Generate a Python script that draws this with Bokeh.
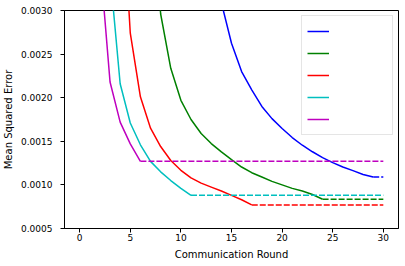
from bokeh.plotting import figure
from bokeh.models import Range1d, FixedTicker, PrintfTickFormatter, Legend, LegendItem
from bokeh.core.properties import value
from bokeh.embed import file_html
from bokeh.resources import INLINE

# ---- data ----
x_ticks = [0, 5, 10, 15, 20, 25, 30]
y_ticks = [0.0005, 0.0010, 0.0015, 0.0020, 0.0025, 0.0030]

blue_x = list(range(13, 30))
blue_y = [0.0037, 0.00309, 0.002625, 0.00230, 0.00209, 0.00190, 0.00176, 0.001647,
          0.001543, 0.001455, 0.00138, 0.001313, 0.001256, 0.001205, 0.001164,
          0.00112, 0.00109]
blue_tail_x = [29, 30]
blue_tail_y = [0.00109, 0.00109]

green_x = list(range(7, 25))
green_y = [0.0045, 0.00296, 0.002337, 0.00197, 0.00175, 0.00159, 0.001474, 0.001378,
           0.00129, 0.001205, 0.00114, 0.00109, 0.00104, 0.00100, 0.00096, 0.00093,
           0.00089, 0.000835]
green_tail_x = [24, 30]
green_tail_y = [0.000835, 0.000835]

red_x = list(range(4, 18))
red_y = [0.0047, 0.00274, 0.00201, 0.00165, 0.00144, 0.00128, 0.001167, 0.00108,
         0.00102, 0.000975, 0.00093, 0.00088, 0.00083, 0.00077]
red_tail_x = [17, 30]
red_tail_y = [0.00077, 0.00077]

cyan_x = list(range(3, 12))
cyan_y = [0.00343, 0.00216, 0.00171, 0.00146, 0.00127, 0.00115, 0.00105, 0.00096, 0.00088]
cyan_tail_x = [11, 30]
cyan_tail_y = [0.00088, 0.00088]

magenta_x = list(range(2, 7))
magenta_y = [0.00359, 0.00218, 0.00172, 0.00147, 0.00127]
magenta_tail_x = [6, 30]
magenta_tail_y = [0.00127, 0.00127]

series = [
    ("#0000ff", blue_x, blue_y, blue_tail_x, blue_tail_y),
    ("#008000", green_x, green_y, green_tail_x, green_tail_y),
    ("#ff0000", red_x, red_y, red_tail_x, red_tail_y),
    ("#00bfbf", cyan_x, cyan_y, cyan_tail_x, cyan_tail_y),
    ("#bf00bf", magenta_x, magenta_y, magenta_tail_x, magenta_tail_y),
]

FONT = "DejaVu Sans"

p = figure(width=403, height=262, output_backend="svg", toolbar_location=None,
           x_range=Range1d(-1.5, 31.5), y_range=Range1d(0.0005, 0.0030),
           min_border_left=64, min_border_right=5, min_border_top=10, min_border_bottom=34)

p.grid.visible = False
p.background_fill_color = "white"
p.border_fill_color = "white"
p.outline_line_color = "black"
p.outline_line_width = 1

for ax in (p.xaxis[0], p.yaxis[0]):
    ax.major_tick_out = 4
    ax.major_tick_in = 0
    ax.minor_tick_line_color = None
    ax.axis_line_color = "black"
    ax.major_tick_line_color = "black"
    ax.major_label_text_font = FONT
    ax.major_label_text_font_size = "9px"
    ax.major_label_text_color = "black"
    ax.axis_label_text_font = FONT
    ax.axis_label_text_font_size = "10px"
    ax.axis_label_text_font_style = "normal"
    ax.axis_label_text_color = "black"

p.xaxis.ticker = FixedTicker(ticks=x_ticks)
p.yaxis.ticker = FixedTicker(ticks=y_ticks)
p.yaxis.formatter = PrintfTickFormatter(format="%.4f")
p.xaxis.axis_label = "Communication Round"
p.yaxis.axis_label = "Mean Squared Error"
p.xaxis.major_label_standoff = 1
p.xaxis.axis_label_standoff = 5
p.yaxis.major_label_standoff = 8
p.yaxis.axis_label_standoff = 4

items = []
for color, xs, ys, tx, ty in series:
    r = p.line(xs, ys, line_color=color, line_width=1.5)
    p.line(tx, ty, line_color=color, line_width=1.5, line_dash="6 2")
    items.append(LegendItem(label=value(""), renderers=[r]))

legend = Legend(items=items, location="top_right", margin=5, padding=5,
                glyph_width=22, glyph_height=20, label_height=20, label_width=53,
                label_standoff=5, spacing=2,
                border_line_color="#cccccc", border_line_width=1,
                background_fill_color="white", background_fill_alpha=0.8)
p.add_layout(legend, "center")

open("out.html", "w").write(file_html(p, INLINE))
